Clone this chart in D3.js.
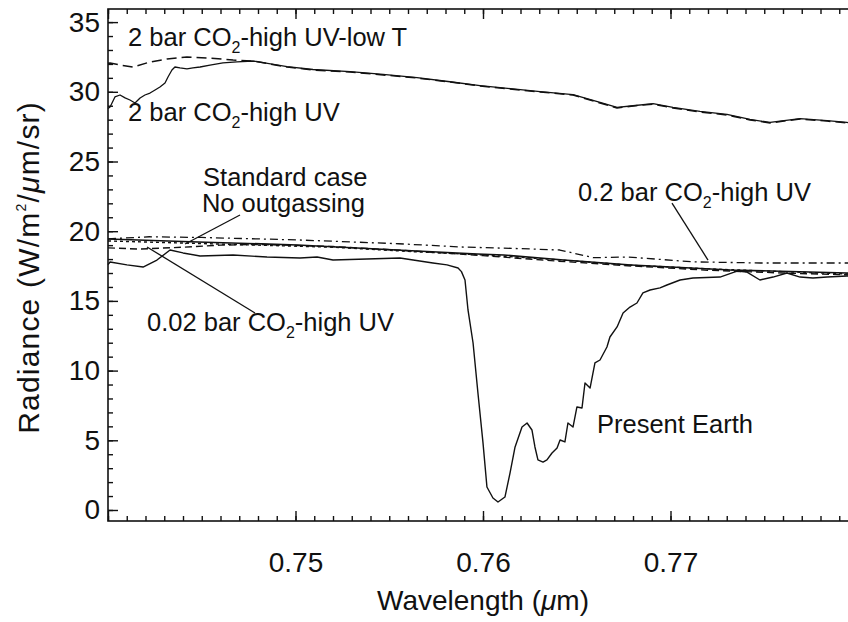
<!DOCTYPE html>
<html><head><meta charset="utf-8">
<script src="https://cdn.jsdelivr.net/npm/d3@7"></script>
<style>body{margin:0;background:#fff}</style>
</head><body><svg id="c" width="848" height="622"></svg>
<script>
// ---------------- data ----------------
const xMajorTicks = [0.74, 0.75, 0.76, 0.77, 0.78];
const xTickLabels = ["", "0.75", "0.76", "0.77", ""];
const yMajorTicks = [0, 5, 10, 15, 20, 25, 30, 35];
const yTickLabels = ["0", "5", "10", "15", "20", "25", "30", "35"];

// Present Earth (solid)
const wlPresent = [0.7400,0.74011,0.74101,0.74187,0.74261,0.74331,0.74400,0.74491,0.74667,0.74848,0.75024,0.75115,0.75200,0.75381,0.75557,0.75733,0.75808,0.75867,0.75885,0.75904,0.75920,0.75947,0.75973,0.76000,0.76021,0.76053,0.76080,0.76117,0.76144,0.76171,0.76208,0.76235,0.76261,0.76277,0.76293,0.76320,0.76341,0.76368,0.76395,0.76411,0.76437,0.76453,0.76480,0.76501,0.76528,0.76544,0.76571,0.76597,0.76624,0.76661,0.76677,0.76715,0.76747,0.76784,0.76821,0.76853,0.76891,0.76944,0.76981,0.77051,0.77120,0.77264,0.77355,0.77408,0.77477,0.77547,0.77621,0.77691,0.77760,0.77835,0.77941,0.7800];
const radPresent = [17.6,17.79,17.58,17.43,17.93,18.65,18.44,18.22,18.29,18.15,18.08,18.15,17.93,18.01,18.08,17.72,17.58,17.36,17.1,16.5,14.35,11.98,8.39,4.81,1.65,0.86,0.57,0.93,2.65,4.52,5.95,6.24,5.74,4.52,3.59,3.44,3.59,4.09,4.45,5.02,4.88,6.24,5.95,7.39,7.32,9.11,8.75,10.55,10.76,11.69,12.41,13.13,14.13,14.56,14.85,15.57,15.78,15.93,16.14,16.5,16.64,16.71,17.14,17.07,16.5,16.71,17.0,16.71,16.64,16.71,16.79,16.79];

// 2 bar CO2 - high UV - low T (dashed)
const wlLowT = [0.7400,0.74011,0.74064,0.74133,0.74224,0.74315,0.74421,0.74544,0.74667,0.74773,0.74955,0.75093,0.75291,0.75467,0.75648,0.75824,0.75984,0.76091,0.76304,0.76480,0.76624,0.76715,0.76800,0.76907,0.77013,0.77157,0.77301,0.77424,0.77531,0.77691,0.77835,0.77941,0.7800];
const radLowT = [32.05,32.07,31.92,31.78,32.14,32.35,32.5,32.42,32.28,32.21,31.78,31.56,31.42,31.21,30.99,30.7,30.42,30.27,29.99,29.77,29.2,28.84,28.98,29.12,28.84,28.55,28.34,27.98,27.77,28.05,27.9,27.77,27.7];

// 2 bar CO2 - high UV (solid)
const wlHighUV = [0.7400,0.74011,0.74037,0.74064,0.74091,0.74117,0.74144,0.74171,0.74197,0.74224,0.74251,0.74277,0.74304,0.74320,0.74341,0.74357,0.74384,0.74421,0.74453,0.74491,0.74544,0.74613,0.74688,0.74773,0.74955,0.75093,0.75291,0.75467,0.75648,0.75824,0.75984,0.76091,0.76304,0.76480,0.76624,0.76715,0.76800,0.76907,0.77013,0.77157,0.77301,0.77424,0.77531,0.77691,0.77835,0.77941,0.7800];
const radHighUV = [28.8,28.91,29.63,29.77,29.56,29.41,29.2,29.56,29.77,29.91,30.13,30.34,30.63,31.06,31.56,31.78,31.71,31.64,31.71,31.78,31.92,32.07,32.14,32.21,31.8,31.6,31.45,31.25,31.02,30.72,30.45,30.3,30.02,29.8,29.25,28.88,29.0,29.15,28.88,28.6,28.38,28.02,27.8,28.08,27.93,27.8,27.72];

// Standard case (solid)
const wlStandard = [0.7400,0.7448,0.7501,0.7554,0.7597,0.7611,0.7643,0.7679,0.7732,0.7794,0.7800];
const radStandard = [19.44,19.23,19.01,18.65,18.36,18.29,17.93,17.58,17.22,17.0,16.97];

// No outgassing (dotted)
const wlNoOut = [0.7400,0.7440,0.7480,0.7520,0.7560,0.7600,0.7640,0.7680,0.7720,0.7760,0.7800];
const radNoOut = [19.3,19.15,19.0,18.85,18.55,18.3,17.95,17.55,17.3,17.1,16.9];

// 0.02 bar CO2 - high UV (dashed)
const wl002 = [0.7400,0.7417,0.7440,0.7460,0.7480,0.7520,0.7560,0.7600,0.7640,0.7680,0.7720,0.7760,0.7800];
const rad002 = [18.8,18.72,18.85,19.0,19.05,18.9,18.6,18.25,17.85,17.5,17.2,17.0,16.85];

// 0.2 bar CO2 - high UV (dash-dot)
const wl02 = [0.7400,0.7422,0.7450,0.7502,0.7555,0.7588,0.7620,0.7641,0.7659,0.7677,0.7712,0.7748,0.7794,0.7800];
const rad02 = [19.45,19.6,19.55,19.37,19.1,18.87,18.75,18.65,18.1,18.15,17.8,17.72,17.72,17.7];

// ---------------- chart ----------------
const W = 848, H = 622;
const M = {left: 108, right: 858, top: 9, bottom: 521};
const x = d3.scaleLinear().domain([0.74, 0.78]).range([M.left, M.right]);
const y = d3.scaleLinear().domain([-0.79, 35.94]).range([M.bottom, M.top]);
const FONT = "'Liberation Sans', Arial, Helvetica, sans-serif";

const svg = d3.select("#c").style("font-family", FONT);
svg.append("rect").attr("width", W).attr("height", H).attr("fill", "#fff");

const minorX = d3.range(0, 41).map(i => 0.74 + i * 0.001);
const minorY = d3.range(0, 36).map(i => i);

function styleAxis(g) {
  g.select(".domain").remove();
  g.selectAll(".tick line").attr("stroke", "#111").attr("stroke-width", 1.4);
}

// bottom
svg.append("g").attr("transform", `translate(0,${M.bottom})`)
  .call(d3.axisBottom(x).tickValues(minorX).tickSize(-5).tickFormat(""))
  .call(styleAxis);
svg.append("g").attr("transform", `translate(0,${M.bottom})`)
  .call(d3.axisBottom(x).tickValues(xMajorTicks).tickSize(-10).tickPadding(31)
        .tickFormat((d, i) => xTickLabels[i]))
  .call(styleAxis)
  .call(g => g.selectAll("text").attr("font-size", 28).attr("fill", "#111").attr("font-family", FONT));
// top
svg.append("g").attr("transform", `translate(0,${M.top})`)
  .call(d3.axisTop(x).tickValues(minorX).tickSize(-5).tickFormat("")).call(styleAxis);
svg.append("g").attr("transform", `translate(0,${M.top})`)
  .call(d3.axisTop(x).tickValues(xMajorTicks).tickSize(-10).tickFormat("")).call(styleAxis);
// left
svg.append("g").attr("transform", `translate(${M.left},0)`)
  .call(d3.axisLeft(y).tickValues(minorY).tickSize(-5).tickFormat("")).call(styleAxis);
svg.append("g").attr("transform", `translate(${M.left},0)`)
  .call(d3.axisLeft(y).tickValues(yMajorTicks).tickSize(-10).tickPadding(8)
        .tickFormat((d, i) => yTickLabels[i]))
  .call(styleAxis)
  .call(g => g.selectAll("text").attr("font-size", 28).attr("fill", "#111").attr("font-family", FONT));
// right
svg.append("g").attr("transform", `translate(${M.right},0)`)
  .call(d3.axisRight(y).tickValues(minorY).tickSize(-5).tickFormat("")).call(styleAxis);
svg.append("g").attr("transform", `translate(${M.right},0)`)
  .call(d3.axisRight(y).tickValues(yMajorTicks).tickSize(-10).tickFormat("")).call(styleAxis);

// frame
svg.append("rect").attr("x", M.left).attr("y", M.top)
  .attr("width", M.right - M.left).attr("height", M.bottom - M.top)
  .attr("fill", "none").attr("stroke", "#111").attr("stroke-width", 1.6);

// lines
const series = [
  {wl: wlStandard, rad: radStandard, dash: null, w: 1.6},
  {wl: wlNoOut, rad: radNoOut, dash: "3,3", w: 1.4},
  {wl: wl002, rad: rad002, dash: "7,4", w: 1.4},
  {wl: wl02, rad: rad02, dash: "8,4,2,4", w: 1.3},
  {wl: wlLowT, rad: radLowT, dash: "10,5", w: 1.5},
  {wl: wlHighUV, rad: radHighUV, dash: null, w: 1.3},
  {wl: wlPresent, rad: radPresent, dash: null, w: 1.4}
];
const line = d3.line().x(d => x(d[0])).y(d => y(d[1])).curve(d3.curveLinear);
const plot = svg.append("g");
series.forEach(s => {
  plot.append("path")
    .attr("d", line(s.wl.map((w, i) => [w, s.rad[i]])))
    .attr("fill", "none").attr("stroke", "#111").attr("stroke-width", s.w)
    .attr("stroke-linejoin", "round")
    .attr("stroke-dasharray", s.dash);
});

// annotations (data coordinates)
const labels = [
  {wl: 0.74107, v: 33.29, parts: ["2 bar CO", "2", "-high UV-low T"]},
  {wl: 0.74107, v: 27.9, parts: ["2 bar CO", "2", "-high UV"]},
  {wl: 0.74507, v: 23.24, parts: ["Standard case"]},
  {wl: 0.74501, v: 21.38, parts: ["No outgassing"]},
  {wl: 0.74208, v: 12.84, parts: ["0.02 bar CO", "2", "-high UV"]},
  {wl: 0.76507, v: 22.17, parts: ["0.2 bar CO", "2", "-high UV"]},
  {wl: 0.76608, v: 5.52, parts: ["Present Earth"]}
];
labels.forEach(l => {
  const t = svg.append("text").attr("x", x(l.wl)).attr("y", y(l.v))
    .attr("font-size", 25.5).attr("fill", "#111");
  t.append("tspan").text(l.parts[0]);
  if (l.parts.length > 1) {
    t.append("tspan").attr("font-size", 16).attr("dy", 7).text(l.parts[1]);
    t.append("tspan").attr("dy", -7).text(l.parts[2]);
  }
});

const leaders = [
  [[0.74704, 21.16], [0.74411, 19.08]],
  [[0.74208, 18.87], [0.74784, 14.13]],
  [[0.77008, 22.02], [0.77200, 17.93]]
];
leaders.forEach(p => {
  svg.append("line").attr("x1", x(p[0][0])).attr("y1", y(p[0][1]))
    .attr("x2", x(p[1][0])).attr("y2", y(p[1][1]))
    .attr("stroke", "#111").attr("stroke-width", 1.3);
});

// axis titles
svg.append("text").attr("x", x(0.76)).attr("y", 610).attr("text-anchor", "middle")
  .attr("font-size", 28).attr("fill", "#111")
  .call(t => {
    t.append("tspan").text("Wavelength (");
    t.append("tspan").attr("font-style", "italic").text("μ");
    t.append("tspan").text("m)");
  });
svg.append("text").attr("transform", `translate(39,${y(17.4)}) rotate(-90)`)
  .attr("text-anchor", "middle").attr("font-size", 30).attr("letter-spacing", 1.2).attr("fill", "#111")
  .call(t => {
    t.append("tspan").text("Radiance (W/m");
    t.append("tspan").attr("font-size", 14).attr("dy", -13).text("2");
    t.append("tspan").attr("dy", 13).text("/");
    t.append("tspan").attr("font-style", "italic").text("μ");
    t.append("tspan").text("m/sr)");
  });
</script></body></html>
